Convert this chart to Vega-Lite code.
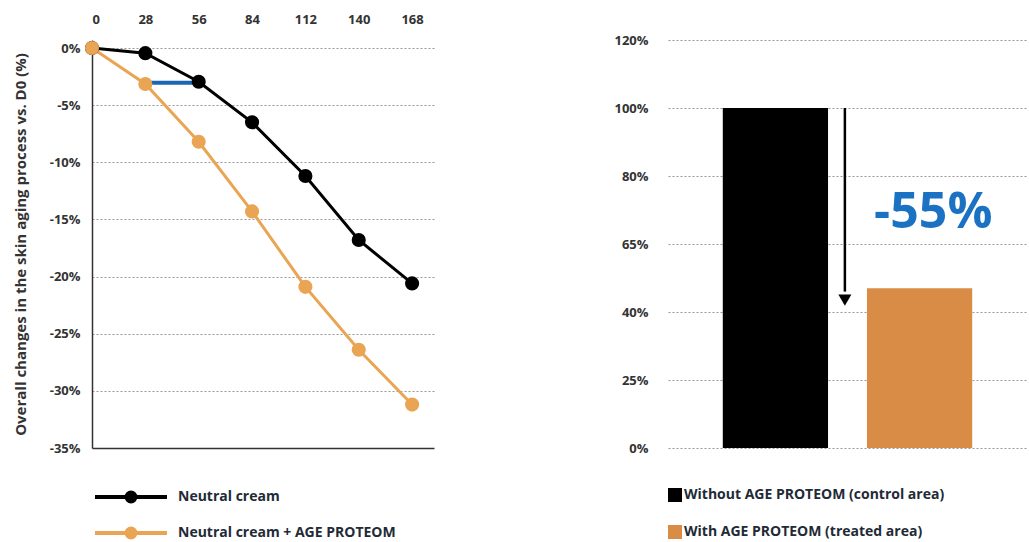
{
  "$schema": "https://vega.github.io/schema/vega-lite/v6.json",
  "padding": {"left": 13, "top": 13, "right": 0, "bottom": 0},
  "background": "white",
  "config": {
    "font": "Open Sans",
    "view": {"stroke": null},
    "axis": {"labelFont": "Open Sans", "labelFontWeight": "bold", "labelColor": "#333", "labelFontSize": 13, "titleFont": "Open Sans"},
    "legend": {"labelFont": "Open Sans", "labelFontWeight": "bold", "labelColor": "#222a36", "labelFontSize": 14, "labelLimit": 0}
  },
  "datasets": {
    "lines": [
      {"day": 0, "change": 0, "series": "Neutral cream"},
      {"day": 28, "change": -0.45, "series": "Neutral cream"},
      {"day": 56, "change": -2.95, "series": "Neutral cream"},
      {"day": 84, "change": -6.5, "series": "Neutral cream"},
      {"day": 112, "change": -11.2, "series": "Neutral cream"},
      {"day": 140, "change": -16.8, "series": "Neutral cream"},
      {"day": 168, "change": -20.6, "series": "Neutral cream"},
      {"day": 0, "change": 0, "series": "Neutral cream + AGE PROTEOM"},
      {"day": 28, "change": -3.15, "series": "Neutral cream + AGE PROTEOM"},
      {"day": 56, "change": -8.2, "series": "Neutral cream + AGE PROTEOM"},
      {"day": 84, "change": -14.3, "series": "Neutral cream + AGE PROTEOM"},
      {"day": 112, "change": -20.9, "series": "Neutral cream + AGE PROTEOM"},
      {"day": 140, "change": -26.4, "series": "Neutral cream + AGE PROTEOM"},
      {"day": 168, "change": -31.2, "series": "Neutral cream + AGE PROTEOM"}
    ],
    "blue": [{"from": 28, "to": 56, "level": -3.05}],
    "bars": [
      {"group": "Without AGE PROTEOM (control area)", "value": 100},
      {"group": "With AGE PROTEOM (treated area)", "value": 47}
    ],
    "arrow": [{"group": "Without AGE PROTEOM (control area)", "top": 100, "bottom": 46, "head": 43.5}],
    "note": [{"group": "With AGE PROTEOM (treated area)", "value": 69, "label": "-55%"}]
  },
  "hconcat": [
    {
      "width": 342,
      "height": 408,
      "layer": [
        {
          "data": {"name": "lines"},
          "mark": {"type": "line", "strokeWidth": 3},
          "encoding": {
            "x": {"field": "day", "type": "quantitative", "scale": {"domain": [0, 179.5], "nice": false, "zero": false},
              "axis": {"orient": "top", "values": [0, 28, 56, 84, 112, 140, 168], "grid": false, "domain": false, "ticks": false, "labelPadding": 14, "title": null}},
            "y": {"field": "change", "type": "quantitative", "scale": {"domain": [-35, 0.7], "nice": false, "zero": false},
              "axis": {"values": [0, -5, -10, -15, -20, -25, -30, -35], "labelExpr": "datum.value + '%'", "grid": true,
                "gridDash": {"condition": {"test": "datum.value === -35", "value": []}, "value": [2, 2]},
                "gridColor": {"condition": {"test": "datum.value === -35", "value": "#333"}, "value": "#999"},
                "gridWidth": {"condition": {"test": "datum.value === -35", "value": 1.5}, "value": 1},
                "domain": true, "domainColor": "#333", "domainWidth": 1.5, "ticks": false, "labelPadding": 12,
                "title": "Overall changes in the skin aging process vs. D0 (%)", "titleFontSize": 15, "titleFontWeight": "bold", "titleColor": "#333", "titlePadding": 21}},
            "color": {"field": "series", "type": "nominal",
              "scale": {"domain": ["Neutral cream", "Neutral cream + AGE PROTEOM"], "range": ["#000000", "#e9a553"]},
              "legend": {"orient": "none", "legendX": 19, "legendY": 437, "title": null, "padding": 0, "rowPadding": 3,
                "symbolType": "M-2,0L2,0M-0.25,0a0.25,0.25 0 1,0 0.5,0a0.25,0.25 0 1,0 -0.5,0M-0.1,0a0.1,0.1 0 1,0 0.2,0a0.1,0.1 0 1,0 -0.2,0",
                "symbolSize": 1296, "symbolStrokeWidth": 4, "labelOffset": 27}}
          }
        },
        {
          "data": {"name": "blue"},
          "mark": {"type": "rule", "color": "#1a66b3", "strokeWidth": 4},
          "encoding": {
            "x": {"field": "from", "type": "quantitative"},
            "x2": {"field": "to"},
            "y": {"field": "level", "type": "quantitative"}
          }
        },
        {
          "data": {"name": "lines"},
          "mark": {"type": "point", "filled": true, "opacity": 1, "size": 200},
          "encoding": {
            "x": {"field": "day", "type": "quantitative"},
            "y": {"field": "change", "type": "quantitative"},
            "color": {"field": "series", "type": "nominal", "legend": null}
          }
        }
      ]
    },
    {
      "width": 359,
      "height": 408,
      "layer": [
        {
          "data": {"name": "bars"},
          "mark": {"type": "bar"},
          "encoding": {
            "x": {"field": "group", "type": "nominal",
              "scale": {"domain": ["Without AGE PROTEOM (control area)", "With AGE PROTEOM (treated area)"], "paddingInner": 0.27, "paddingOuter": 0.38},
              "axis": null},
            "y": {"field": "value", "type": "quantitative", "scale": {"domain": [0, 120], "nice": false},
              "axis": {"values": [0, 20, 40, 60, 80, 100, 120], "labelExpr": "datum.value == 20 ? '25%' : datum.value == 60 ? '65%' : datum.value + '%'",
                "grid": true, "gridDash": [2, 2], "gridColor": "#999", "domain": false, "ticks": false, "labelPadding": 20, "title": null}},
            "color": {"field": "group", "type": "nominal",
              "scale": {"domain": ["Without AGE PROTEOM (control area)", "With AGE PROTEOM (treated area)"], "range": ["#000000", "#d88c45"]},
              "legend": {"orient": "none", "legendX": 0, "legendY": 448, "title": null, "padding": 0, "rowPadding": 23,
                "symbolType": "square", "symbolSize": 196, "symbolStrokeWidth": 0, "labelOffset": 2}}
          }
        },
        {
          "data": {"name": "arrow"},
          "mark": {"type": "rule", "color": "#000", "strokeWidth": 2.5},
          "encoding": {
            "x": {"field": "group", "type": "nominal", "bandPosition": 1.16},
            "y": {"field": "top", "type": "quantitative"},
            "y2": {"field": "bottom"}
          }
        },
        {
          "data": {"name": "arrow"},
          "mark": {"type": "point", "shape": "triangle-down", "filled": true, "color": "#000", "opacity": 1, "size": 170},
          "encoding": {
            "x": {"field": "group", "type": "nominal", "bandPosition": 1.16},
            "y": {"field": "head", "type": "quantitative"}
          }
        },
        {
          "data": {"name": "note"},
          "mark": {"type": "text", "fontSize": 50, "fontWeight": "bold", "color": "#1b72c2", "align": "center", "baseline": "middle", "font": "Open Sans"},
          "encoding": {
            "x": {"field": "group", "type": "nominal", "bandPosition": 0.63},
            "y": {"field": "value", "type": "quantitative"},
            "text": {"field": "label"}
          }
        }
      ]
    }
  ],
  "spacing": 179,
  "resolve": {"scale": {"color": "independent"}, "legend": {"color": "independent"}}
}
